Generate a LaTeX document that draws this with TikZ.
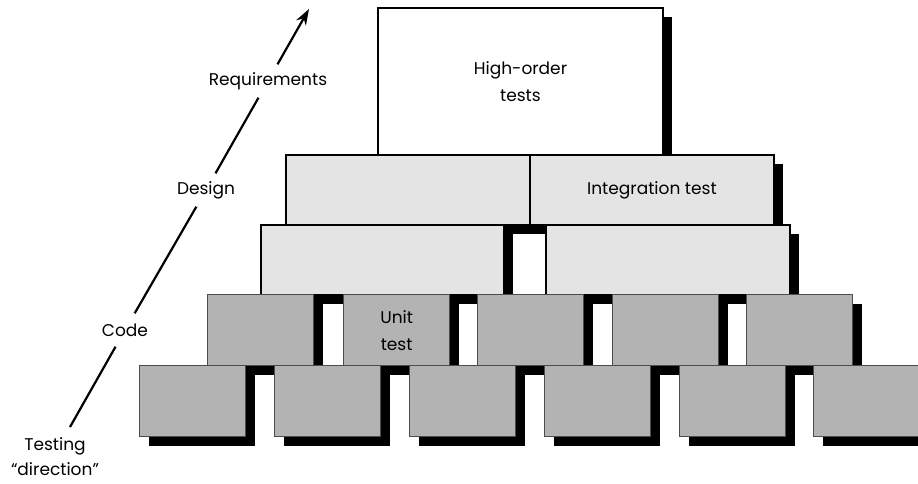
\documentclass[tikz,border=0pt]{standalone}
\usepackage{fontspec}
\setmainfont{Poppins}
\usetikzlibrary{shadows,arrows.meta}
\definecolor{lightbrick}{HTML}{E4E4E4}
\definecolor{darkbrick}{HTML}{B3B3B3}
\begin{document}
\begin{tikzpicture}[x=1pt,y=-1pt,
  txt/.style={font=\fontsize{17}{27}\selectfont, align=center},
  brick/.style={txt, anchor=north west, inner sep=0pt,
    drop shadow={shadow xshift=9pt, shadow yshift=-9pt, fill=black, opacity=1}},
  topbrick/.style={brick, draw=black, line width=1.9pt, fill=white},
  midbrick/.style={brick, draw=black, line width=1.9pt, fill=lightbrick, minimum height=70pt},
  lowbrick/.style={brick, draw=black!70, line width=1.3pt, fill=darkbrick, minimum width=106pt, minimum height=71pt},
  axislabel/.style={txt, fill=white, inner xsep=2pt, minimum height=33pt},
]
\clip (0,0) rectangle (918,484);
% top
\node[topbrick, minimum width=285pt, minimum height=147pt] (high) at (377,7) {High-order\\tests};
% row 2
\node[midbrick, minimum width=244pt] (m1) at (285,154) {};
\node[midbrick, minimum width=244pt] (integ) at (529,154) {Integration test};
% row 3
\node[midbrick, minimum width=243pt] (m3) at (260,224) {};
\node[midbrick, minimum width=244pt] (m4) at (545,224) {};
% row 4
\node[lowbrick] (u1) at (207,294) {};
\node[lowbrick] (unit) at (343,294) {Unit\\test};
\node[lowbrick] (u3) at (477,294) {};
\node[lowbrick] (u4) at (612,294) {};
\node[lowbrick] (u5) at (746,294) {};
% row 5
\node[lowbrick] (b1) at (139,365) {};
\node[lowbrick] (b2) at (274,365) {};
\node[lowbrick] (b3) at (409,365) {};
\node[lowbrick] (b4) at (544,365) {};
\node[lowbrick] (b5) at (679,365) {};
\node[lowbrick] (b6) at (813,365) {};
% direction axis
\coordinate (start) at (70,427);
\coordinate (tip) at (309,9);
\node[axislabel] (code) at (125,330) {Code};
\node[axislabel] (design) at (206,190) {Design};
\node[axislabel] (req) at (268,81) {Requirements};
\node[txt, font=\fontsize{17}{25}\selectfont] (testing) at (55,457) {Testing\\“direction”};
\draw[line width=2.2pt] (start) -- (code);
\draw[line width=2.2pt] (code) -- (design);
\draw[line width=2.2pt] (design) -- (req);
\draw[line width=2.2pt, -{Stealth[length=16pt,width=11pt]}] (req) -- (tip);
\end{tikzpicture}
\end{document}
